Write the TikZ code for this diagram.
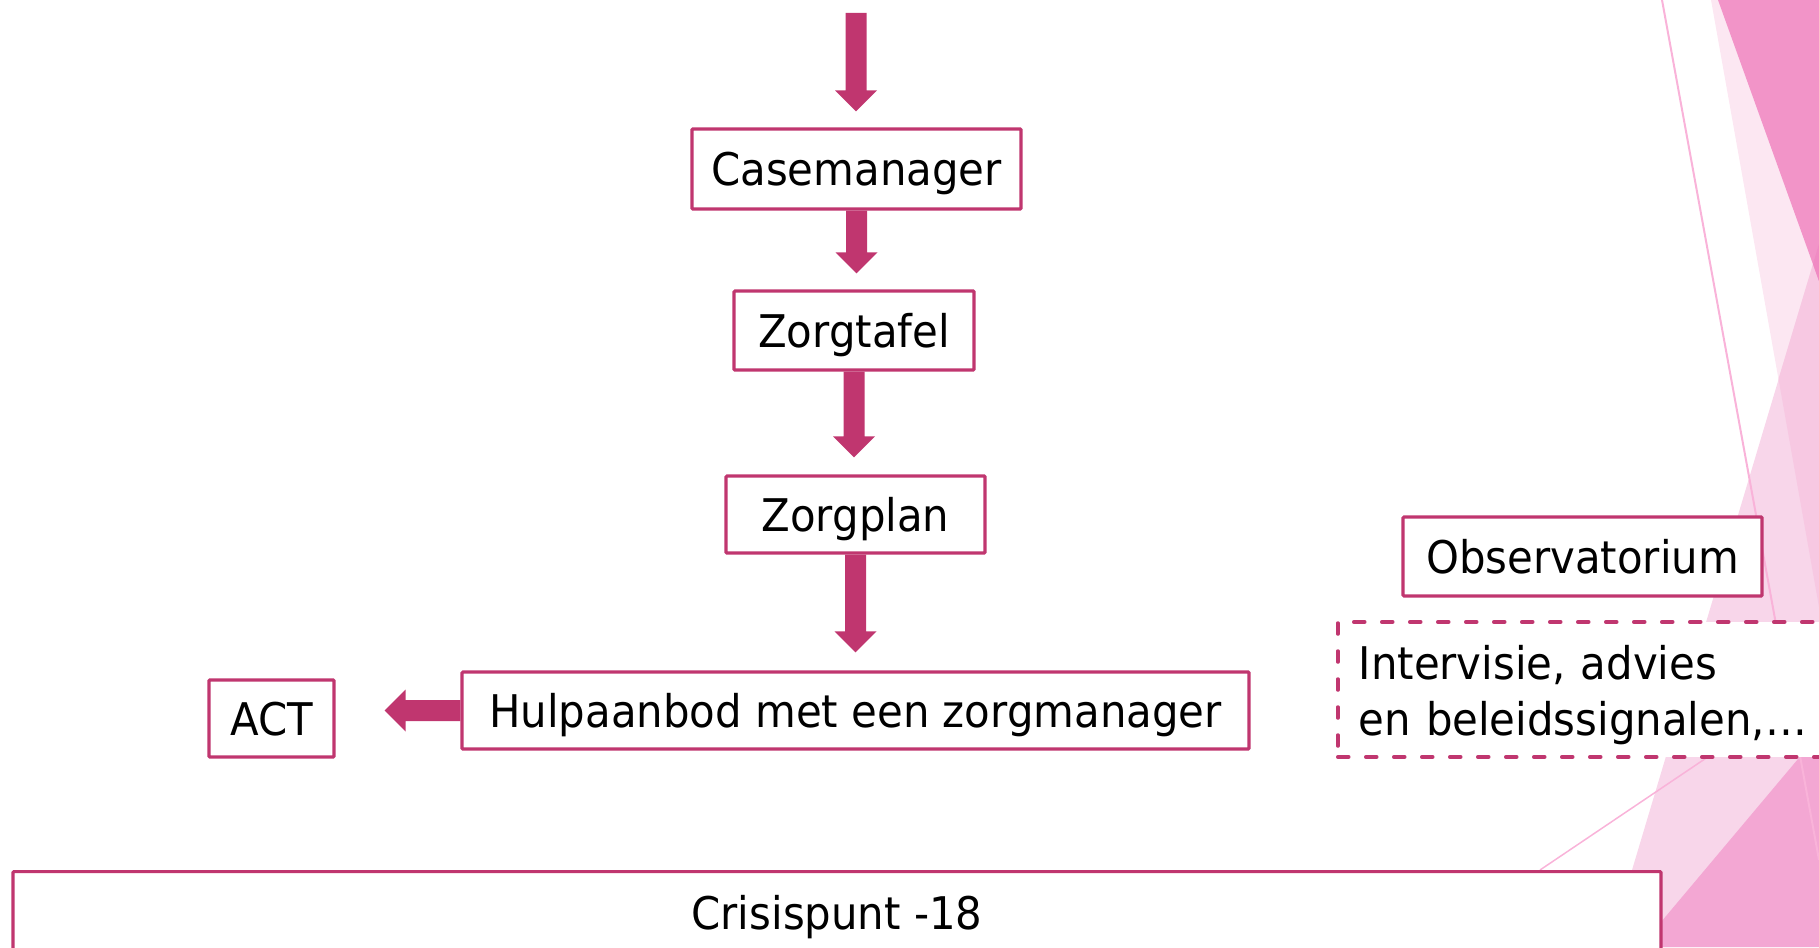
\documentclass[tikz,border=0pt]{standalone}
\usepackage{fontspec}
\setmainfont{DejaVu Sans}[FakeStretch=0.93]
\usetikzlibrary{calc}
\definecolor{mag}{RGB}{192,54,111}
\definecolor{bgdark}{RGB}{242,148,200}
\definecolor{bgband}{RGB}{252,231,242}
\definecolor{bgmed}{RGB}{248,214,234}
\definecolor{bgover}{RGB}{247,200,226}
\definecolor{bgdeep}{RGB}{240,138,195}
\definecolor{bgbottom}{RGB}{243,167,211}
\definecolor{bgline}{RGB}{249,179,217}
\newcommand\vdarrow[2]{%
  \fill[mag] let \p1=(#1), \p2=(#2) in
    (\x1-10.5pt,\y1) -- (\x1+10.5pt,\y1) -- (\x1+10.5pt,\y2+21pt) -- (\x1+21pt,\y2+21pt)
    -- (\x1,\y2) -- (\x1-21pt,\y2+21pt) -- (\x1-10.5pt,\y2+21pt) -- cycle;}
\newcommand\hlarrow[2]{%
  \fill[mag] let \p1=(#1), \p2=(#2) in
    (\x1,\y1+10.5pt) -- (\x2+21pt,\y1+10.5pt) -- (\x2+21pt,\y1+21pt) -- (\x2,\y1)
    -- (\x2+21pt,\y1-21pt) -- (\x2+21pt,\y1-10.5pt) -- (\x1,\y1-10.5pt) -- cycle;}
\begin{document}
\begin{tikzpicture}[x=1pt,y=-1pt,
  txt/.style={text=black, font=\fontsize{45}{56}\selectfont},
  box/.style={txt, draw=mag, line width=3.2pt, fill=white, rounded corners=1pt,
    text height=33pt, text depth=0pt, inner sep=0pt},
  dbox/.style={txt, draw=mag, line width=3.5pt, fill=white, dash pattern=on 11pt off 17pt,
    line cap=round, inner xsep=21pt, inner ysep=0pt, align=left, text width=478pt,
    text height=40pt, text depth=61pt},
  bgl/.style={draw=bgline, line width=2pt}]
\useasboundingbox (0,0) rectangle (1819,947);
% background decoration
\fill[bgband] (1711,0) -- (1819,0) -- (1819,607) -- cycle;
\fill[bgmed] (1819,244) -- (1609,947) -- (1819,947) -- cycle;
\fill[bgover] (1778.5,379) -- (1819,244) -- (1819,607) -- cycle;
\fill[bgdark] (1718,0) -- (1819,0) -- (1819,281) -- cycle;
\fill[bgdeep] (1813,264) -- (1819,244) -- (1819,281) -- cycle;
\fill[bgbottom] (1819,734) -- (1819,947) -- (1640,947) -- cycle;
\draw[bgl] (1662,0) -- (1819,860);
\draw[bgl, line width=1.5pt] (1819,682) -- (1540,870);
% nodes
\node[box, minimum width=329pt, minimum height=80pt] (cm) at (856.5,169) {Casemanager};
\node[box, minimum width=240pt, minimum height=79pt] (zt) at (854,330.5) {Zorgtafel};
\node[box, minimum width=259pt, minimum height=77pt] (zp) at (855.5,514.5) {Zorgplan};
\node[box, minimum width=787pt, minimum height=77pt] (hulp) at (855.5,710.5) {Hulpaanbod met een zorgmanager};
\node[box, minimum width=125pt, minimum height=77pt] (act) at (271.5,718.5) {ACT};
\node[box, minimum width=359pt, minimum height=79pt] (obs) at (1582.5,556.5) {Observatorium};
\node[dbox, anchor=west, minimum height=135pt] (iv) at (1336,689.5) {Intervisie, advies\\en beleidssignalen,…};
\node[box, anchor=north, minimum width=1648pt, inner ysep=25pt] (cp) at (837,870) {Crisispunt -18};
% connectors
\coordinate (start) at (856,13);
\vdarrow{start}{[yshift=16pt]cm.north}
\vdarrow{cm.south}{[yshift=16pt]zt.north}
\vdarrow{zt.south}{[yshift=17pt]zp.north}
\vdarrow{zp.south}{[yshift=18pt]hulp.north}
\hlarrow{hulp.west}{[xshift=49pt]act.east}
\end{tikzpicture}
\end{document}
